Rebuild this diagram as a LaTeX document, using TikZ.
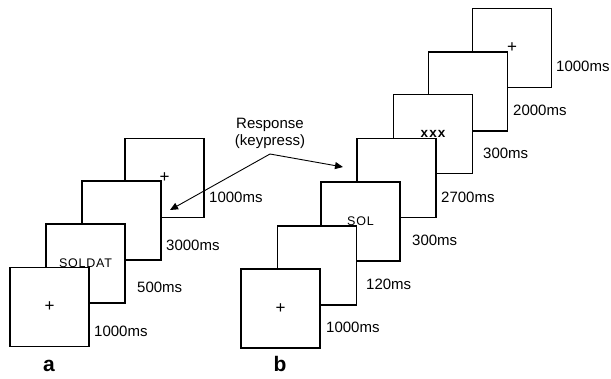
\documentclass[tikz,border=0pt]{standalone}
\usepackage{fontspec}
\setmainfont{Liberation Sans}
\usetikzlibrary{arrows.meta}
\begin{document}
\begin{tikzpicture}[x=1bp,y=-1bp,
  screen/.style={draw=black,fill=white,line width=1.5bp,minimum width=79bp,minimum height=79bp,inner sep=0pt,font=\fontsize{12.5bp}{14bp}\selectfont\addfontfeature{LetterSpace=6}},
  dur/.style={anchor=west,inner sep=0pt,font=\fontsize{15bp}{17bp}\selectfont},
  plus/.style={font=\fontsize{17bp}{19bp}\selectfont},
  panel/.style={font=\fontsize{21bp}{24bp}\selectfont\bfseries,inner sep=0pt},
  resp/.style={-{Triangle[length=8bp,width=7bp]},line width=0.9bp}]
\useasboundingbox (0,0) rectangle (611,378);
% panel a, back to front
\node[screen] (a4) at (164.5,178) {};
\node[plus] (pa4) at (a4.center) {+};
\node[screen] (a3) at (121.5,220.5) {};
\node[screen] (a2) at (85.5,263.5) {SOLDAT};
\node[screen] (a1) at (49.5,307) {};
\node[plus] (pa1) at (a1.center) {+};
\node[dur] (la1) at (94,331) {1000ms};
\node[dur] (la2) at (137,287) {500ms};
\node[dur] (la3) at (166,245) {3000ms};
\node[dur] (la4) at (209,197) {1000ms};
\node[panel] (pa) at (49,366) {a};
% panel b, back to front
\node[screen] (b7) at (512,48) {};
\node[plus] (pb7) at (b7.center) {+};
\node[screen] (b6) at (468,91.5) {};
\node[screen,font=\fontsize{13.5bp}{15bp}\selectfont\bfseries\addfontfeature{LetterSpace=8}] (b5) at (433,134) {xxx};
\node[screen] (b4) at (396.5,178) {};
\node[screen] (b3) at (360.5,221.5) {SOL};
\node[screen] (b2) at (317,265.5) {};
\node[screen] (b1) at (280.5,308.5) {};
\node[plus] (pb1) at (b1.center) {+};
\node[dur] (lb1) at (326,327) {1000ms};
\node[dur] (lb2) at (366,284) {120ms};
\node[dur] (lb3) at (412,240) {300ms};
\node[dur] (lb4) at (441,197) {2700ms};
\node[dur] (lb5) at (483,153) {300ms};
\node[dur] (lb6) at (513,110) {2000ms};
\node[dur] (lb7) at (556,66) {1000ms};
\node[panel] (pb) at (280,364) {b};
% response arrows
\node[align=center,inner sep=0pt,font=\fontsize{15bp}{17bp}\selectfont] (resp) at (270,133.5) {Response\\(keypress)};
\coordinate (j) at (270,154);
\coordinate (tl) at (170,210);
\coordinate (tr) at (343,167);
\draw[resp] (j) -- (tl);
\draw[resp] (j) -- (tr);
\end{tikzpicture}
\end{document}
